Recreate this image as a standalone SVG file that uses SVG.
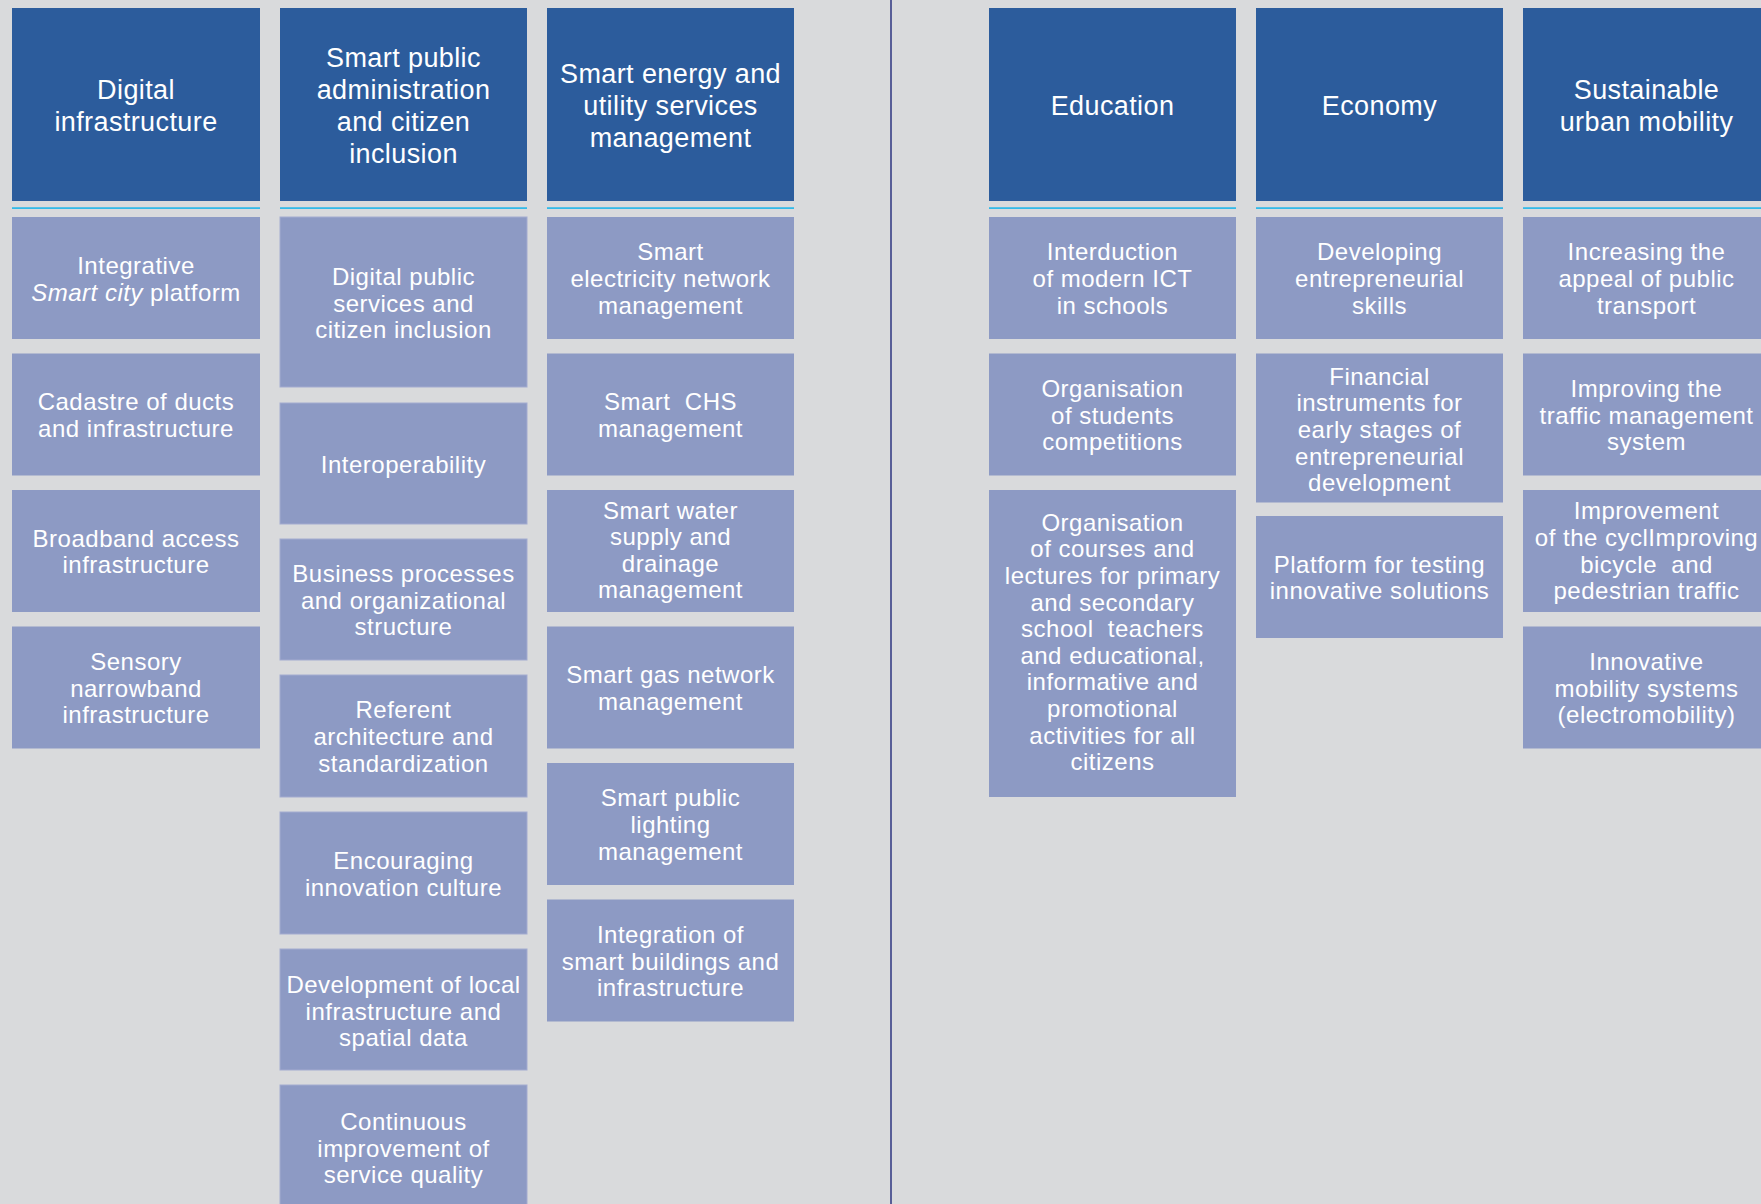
<svg xmlns="http://www.w3.org/2000/svg" width="1761" height="1204" viewBox="0 0 1761 1204">
<style>
.bg{fill:#d9dadc}
.hd{fill:#2c5c9c}
.ch{fill:#8d9ac4}
.ch2{fill:#8d9ac4;stroke:#a3abd0;stroke-width:1}
.cy{fill:#1fb6e9}
.ht{font-family:"Liberation Sans","DejaVu Sans",sans-serif;font-size:27px;letter-spacing:0.4px;fill:#ffffff;text-anchor:middle}
.ct{font-family:"Liberation Sans","DejaVu Sans",sans-serif;font-size:24px;letter-spacing:0.5px;fill:#ffffff;text-anchor:middle;white-space:pre}
.dv{stroke:#2c3580;stroke-width:1.5}
</style>
<rect class="bg" x="0" y="0" width="1761" height="1204"/>
<g id="connectors">
<line class="dv" x1="891" y1="0" x2="891" y2="1204"/>
<rect class="cy" x="12" y="207.3" width="248" height="1.6"/>
<rect class="cy" x="280" y="207.3" width="247" height="1.6"/>
<rect class="cy" x="547" y="207.3" width="247" height="1.6"/>
<rect class="cy" x="989" y="207.3" width="247" height="1.6"/>
<rect class="cy" x="1256" y="207.3" width="247" height="1.6"/>
<rect class="cy" x="1523" y="207.3" width="247" height="1.6"/>
</g>

<!-- Column 1 -->
<g id="h-digital">
<rect class="hd" x="12" y="8" width="248" height="193"/>
<text class="ht" x="136"><tspan x="136" y="98.5">Digital</tspan><tspan x="136" y="130.5">infrastructure</tspan></text>
</g>
<g id="c1-1">
<rect class="ch" x="12" y="217" width="248" height="122"/>
<text class="ct" x="136"><tspan x="136" y="274">Integrative</tspan><tspan x="136" y="300.6"><tspan font-style="italic">Smart city</tspan> platform</tspan></text>
</g>
<g id="c1-2">
<rect class="ch" x="12" y="353.5" width="248" height="122"/>
<text class="ct" x="136"><tspan x="136" y="410.2">Cadastre of ducts</tspan><tspan x="136" y="436.8">and infrastructure</tspan></text>
</g>
<g id="c1-3">
<rect class="ch" x="12" y="490" width="248" height="122"/>
<text class="ct" x="136"><tspan x="136" y="546.7">Broadband access</tspan><tspan x="136" y="573.3">infrastructure</tspan></text>
</g>
<g id="c1-4">
<rect class="ch" x="12" y="626.5" width="248" height="122"/>
<text class="ct" x="136"><tspan x="136" y="669.9">Sensory</tspan><tspan x="136" y="696.5">narrowband</tspan><tspan x="136" y="723.1">infrastructure</tspan></text>
</g>

<!-- Column 2 -->
<g id="h-admin">
<rect class="hd" x="280" y="8" width="247" height="193"/>
<text class="ht" x="403.5"><tspan x="403.5" y="66.5">Smart public</tspan><tspan x="403.5" y="98.5">administration</tspan><tspan x="403.5" y="130.5">and citizen</tspan><tspan x="403.5" y="162.5">inclusion</tspan></text>
</g>
<g id="c2-1">
<rect class="ch2" x="280" y="217" width="247" height="170"/>
<text class="ct" x="403.5"><tspan x="403.5" y="285">Digital public</tspan><tspan x="403.5" y="311.6">services and</tspan><tspan x="403.5" y="338.2">citizen inclusion</tspan></text>
</g>
<g id="c2-2">
<rect class="ch2" x="280" y="403" width="247" height="121"/>
<text class="ct" x="403.5" y="472.5">Interoperability</text>
</g>
<g id="c2-3">
<rect class="ch2" x="280" y="539" width="247" height="121"/>
<text class="ct" x="403.5"><tspan x="403.5" y="581.9">Business processes</tspan><tspan x="403.5" y="608.5">and organizational</tspan><tspan x="403.5" y="635.1">structure</tspan></text>
</g>
<g id="c2-4">
<rect class="ch2" x="280" y="675" width="247" height="122"/>
<text class="ct" x="403.5"><tspan x="403.5" y="718.4">Referent</tspan><tspan x="403.5" y="745">architecture and</tspan><tspan x="403.5" y="771.6">standardization</tspan></text>
</g>
<g id="c2-5">
<rect class="ch2" x="280" y="812" width="247" height="122"/>
<text class="ct" x="403.5"><tspan x="403.5" y="869">Encouraging</tspan><tspan x="403.5" y="895.6">innovation culture</tspan></text>
</g>
<g id="c2-6">
<rect class="ch2" x="280" y="949" width="247" height="121"/>
<text class="ct" x="403.5"><tspan x="403.5" y="993">Development of local</tspan><tspan x="403.5" y="1019.6">infrastructure and</tspan><tspan x="403.5" y="1046.2">spatial data</tspan></text>
</g>
<g id="c2-7">
<rect class="ch2" x="280" y="1085" width="247" height="130"/>
<text class="ct" x="403.5"><tspan x="403.5" y="1130">Continuous</tspan><tspan x="403.5" y="1156.6">improvement of</tspan><tspan x="403.5" y="1183.2">service quality</tspan></text>
</g>

<!-- Column 3 -->
<g id="h-energy">
<rect class="hd" x="547" y="8" width="247" height="193"/>
<text class="ht" x="670.5"><tspan x="670.5" y="82.5">Smart energy and</tspan><tspan x="670.5" y="114.5">utility services</tspan><tspan x="670.5" y="146.5">management</tspan></text>
</g>
<g id="c3-1">
<rect class="ch" x="547" y="217" width="247" height="122"/>
<text class="ct" x="670.5"><tspan x="670.5" y="260.4">Smart</tspan><tspan x="670.5" y="287">electricity network</tspan><tspan x="670.5" y="313.6">management</tspan></text>
</g>
<g id="c3-2">
<rect class="ch" x="547" y="353.5" width="247" height="122"/>
<text class="ct" x="670.5"><tspan x="670.5" y="410.2">Smart  CHS</tspan><tspan x="670.5" y="436.8">management</tspan></text>
</g>
<g id="c3-3">
<rect class="ch" x="547" y="490" width="247" height="122"/>
<text class="ct" x="670.5"><tspan x="670.5" y="518.5">Smart water</tspan><tspan x="670.5" y="545.1">supply and</tspan><tspan x="670.5" y="571.7">drainage</tspan><tspan x="670.5" y="598.3">management</tspan></text>
</g>
<g id="c3-4">
<rect class="ch" x="547" y="626.5" width="247" height="122"/>
<text class="ct" x="670.5"><tspan x="670.5" y="683.2">Smart gas network</tspan><tspan x="670.5" y="709.8">management</tspan></text>
</g>
<g id="c3-5">
<rect class="ch" x="547" y="763" width="247" height="122"/>
<text class="ct" x="670.5"><tspan x="670.5" y="806.4">Smart public</tspan><tspan x="670.5" y="833">lighting</tspan><tspan x="670.5" y="859.6">management</tspan></text>
</g>
<g id="c3-6">
<rect class="ch" x="547" y="899.5" width="247" height="122"/>
<text class="ct" x="670.5"><tspan x="670.5" y="942.9">Integration of</tspan><tspan x="670.5" y="969.5">smart buildings and</tspan><tspan x="670.5" y="996.1">infrastructure</tspan></text>
</g>

<!-- Column 4 -->
<g id="h-education">
<rect class="hd" x="989" y="8" width="247" height="193"/>
<text class="ht" x="1112.5" y="114.5">Education</text>
</g>
<g id="c4-1">
<rect class="ch" x="989" y="217" width="247" height="122"/>
<text class="ct" x="1112.5"><tspan x="1112.5" y="260.4">Interduction</tspan><tspan x="1112.5" y="287">of modern ICT</tspan><tspan x="1112.5" y="313.6">in schools</tspan></text>
</g>
<g id="c4-2">
<rect class="ch" x="989" y="353.5" width="247" height="122"/>
<text class="ct" x="1112.5"><tspan x="1112.5" y="396.9">Organisation</tspan><tspan x="1112.5" y="423.5">of students</tspan><tspan x="1112.5" y="450.1">competitions</tspan></text>
</g>
<g id="c4-3">
<rect class="ch" x="989" y="490" width="247" height="307"/>
<text class="ct" x="1112.5"><tspan x="1112.5" y="530.7">Organisation</tspan><tspan x="1112.5" y="557.3">of courses and</tspan><tspan x="1112.5" y="583.9">lectures for primary</tspan><tspan x="1112.5" y="610.5">and secondary</tspan><tspan x="1112.5" y="637.1">school  teachers</tspan><tspan x="1112.5" y="663.7">and educational,</tspan><tspan x="1112.5" y="690.3">informative and</tspan><tspan x="1112.5" y="716.9">promotional</tspan><tspan x="1112.5" y="743.5">activities for all</tspan><tspan x="1112.5" y="770.1">citizens</tspan></text>
</g>

<!-- Column 5 -->
<g id="h-economy">
<rect class="hd" x="1256" y="8" width="247" height="193"/>
<text class="ht" x="1379.5" y="114.5">Economy</text>
</g>
<g id="c5-1">
<rect class="ch" x="1256" y="217" width="247" height="122"/>
<text class="ct" x="1379.5"><tspan x="1379.5" y="260.4">Developing</tspan><tspan x="1379.5" y="287">entrepreneurial</tspan><tspan x="1379.5" y="313.6">skills</tspan></text>
</g>
<g id="c5-2">
<rect class="ch" x="1256" y="353.5" width="247" height="149"/>
<text class="ct" x="1379.5"><tspan x="1379.5" y="384.8">Financial</tspan><tspan x="1379.5" y="411.4">instruments for</tspan><tspan x="1379.5" y="438">early stages of</tspan><tspan x="1379.5" y="464.6">entrepreneurial</tspan><tspan x="1379.5" y="491.2">development</tspan></text>
</g>
<g id="c5-3">
<rect class="ch" x="1256" y="516" width="247" height="122"/>
<text class="ct" x="1379.5"><tspan x="1379.5" y="572.7">Platform for testing</tspan><tspan x="1379.5" y="599.3">innovative solutions</tspan></text>
</g>

<!-- Column 6 -->
<g id="h-mobility">
<rect class="hd" x="1523" y="8" width="247" height="193"/>
<text class="ht" x="1646.5"><tspan x="1646.5" y="98.5">Sustainable</tspan><tspan x="1646.5" y="130.5">urban mobility</tspan></text>
</g>
<g id="c6-1">
<rect class="ch" x="1523" y="217" width="247" height="122"/>
<text class="ct" x="1646.5"><tspan x="1646.5" y="260.4">Increasing the</tspan><tspan x="1646.5" y="287">appeal of public</tspan><tspan x="1646.5" y="313.6">transport</tspan></text>
</g>
<g id="c6-2">
<rect class="ch" x="1523" y="353.5" width="247" height="122"/>
<text class="ct" x="1646.5"><tspan x="1646.5" y="396.9">Improving the</tspan><tspan x="1646.5" y="423.5">traffic management</tspan><tspan x="1646.5" y="450.1">system</tspan></text>
</g>
<g id="c6-3">
<rect class="ch" x="1523" y="490" width="247" height="122"/>
<text class="ct" x="1646.5"><tspan x="1646.5" y="519.3">Improvement</tspan><tspan x="1646.5" y="545.9">of the cyclImproving</tspan><tspan x="1646.5" y="572.5">bicycle  and</tspan><tspan x="1646.5" y="599.1">pedestrian traffic</tspan></text>
</g>
<g id="c6-4">
<rect class="ch" x="1523" y="626.5" width="247" height="122"/>
<text class="ct" x="1646.5"><tspan x="1646.5" y="669.9">Innovative</tspan><tspan x="1646.5" y="696.5">mobility systems</tspan><tspan x="1646.5" y="723.1">(electromobility)</tspan></text>
</g>
</svg>
